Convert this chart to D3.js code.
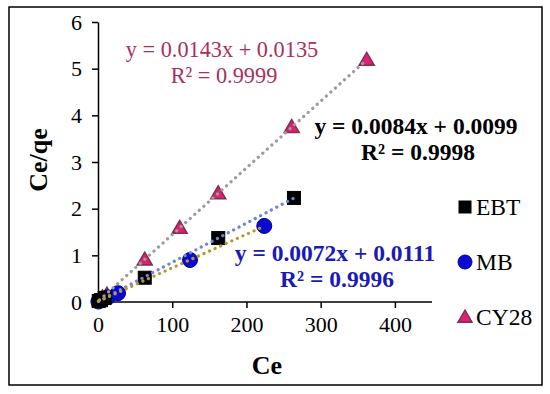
<!DOCTYPE html>
<html>
<head>
<meta charset="utf-8">
<script src="https://cdn.jsdelivr.net/npm/d3@7"></script>
<style>
  body { margin: 0; background: #fff; }
  text { font-family: "Liberation Serif", "Times New Roman", serif; }
</style>
</head>
<body>
<div id="chart"></div>
<script>
// data
var seriesNames = ["EBT", "MB", "CY28"];
var ebtCe = [1, 4, 9, 63, 162, 264];
var ebtY = [0.02, 0.04, 0.09, 0.52, 1.37, 2.23];
var mbCe = [0.5, 2, 5, 13, 27, 124, 224];
var mbY = [0.01, 0.03, 0.05, 0.1, 0.19, 0.9, 1.63];
var cyCe = [2, 6, 12, 63, 110, 162, 261, 362];
var cyY = [0.04, 0.1, 0.16, 0.91, 1.59, 2.33, 3.75, 5.19];
// trendline fits (slope, intercept, r2) as printed
var slopes = [0.0084, 0.0072, 0.0143];
var intercepts = [0.0099, 0.0111, 0.0135];
var r2s = ["0.9998", "0.9996", "0.9999"];
var xTicks = [0, 100, 200, 300, 400];
var yTicks = [0, 1, 2, 3, 4, 5, 6];

var W = 550, H = 394;
var margin = {top: 22, left: 98, right: 118, bottom: 92};

var svg = d3.select("#chart").append("svg")
  .attr("width", W).attr("height", H);

svg.append("rect")
  .attr("x", 9).attr("y", 7)
  .attr("width", 533).attr("height", 378)
  .attr("fill", "#fff").attr("stroke", "#000").attr("stroke-width", 1.5);

var x = d3.scaleLinear().domain([0, 450]).range([margin.left, W - margin.right]);
var y = d3.scaleLinear().domain([0, 6]).range([H - margin.bottom, margin.top]);

var series = [
  {name: "EBT", ce: ebtCe, v: ebtY, marker: "square", fill: "#000", stroke: "#000", line: "#6f86d6",
   eqColor: "#000", eqBold: true, eqX: 416, eqY: 134},
  {name: "MB", ce: mbCe, v: mbY, marker: "circle", fill: "#0a0ad0", stroke: "#0000a0", line: "#b59a2e",
   eqColor: "#1a1ab4", eqBold: true, eqX: 335, eqY: 261},
  {name: "CY28", ce: cyCe, v: cyY, marker: "triangle", fill: "#e0206e", stroke: "#7d2f55", line: "#9c9c9c",
   eqColor: "#a8305f", eqBold: false, eqX: 222, eqY: 57}
];
series.forEach(function(s, i) {
  s.slope = slopes[i]; s.b = intercepts[i]; s.r2 = r2s[i];
  s.points = s.ce.map(function(c, j) { return {ce: c, v: s.v[j]}; });
});

// axes
var xAxis = d3.axisBottom(x).tickValues(xTicks).tickFormat(d3.format("d"))
  .tickSize(6).tickPadding(8).tickSizeOuter(0);
var yAxis = d3.axisLeft(y).tickValues(yTicks).tickFormat(d3.format("d"))
  .tickSize(6).tickPadding(10).tickSizeOuter(0);

var gx = svg.append("g").attr("transform", "translate(0," + y(0) + ")").call(xAxis);
var gy = svg.append("g").attr("transform", "translate(" + x(0) + ",0)").call(yAxis);
[gx, gy].forEach(function(g) {
  g.select(".domain").attr("stroke", "#000").attr("stroke-width", 1.5);
  g.selectAll(".tick line").attr("stroke", "#000").attr("stroke-width", 1.5);
  g.selectAll(".tick text").attr("fill", "#000")
    .style("font-family", "Liberation Serif").style("font-size", "22px");
});
gx.select(".domain").attr("d", "M" + x(0) + ",0H" + x(450));

// axis titles
svg.append("text")
  .attr("x", 267).attr("y", 374)
  .attr("text-anchor", "middle")
  .style("font-size", "26px").style("font-weight", "bold")
  .text("Ce");
svg.append("text")
  .attr("transform", "translate(47,160) rotate(-90)")
  .attr("text-anchor", "middle")
  .style("font-size", "26px").style("font-weight", "bold")
  .text("Ce/qe");

function drawMarker(g, s, cx, cy, size) {
  if (s.marker === "square") {
    g.append("rect")
      .attr("x", cx - size / 2).attr("y", cy - size / 2)
      .attr("width", size).attr("height", size)
      .attr("fill", s.fill).attr("stroke", s.stroke);
  } else if (s.marker === "circle") {
    g.append("circle")
      .attr("cx", cx).attr("cy", cy).attr("r", size / 2 + 1)
      .attr("fill", s.fill).attr("stroke", s.stroke);
  } else {
    var h = size * 0.95;
    g.append("path")
      .attr("d", "M" + cx + "," + (cy - h * 0.6) +
        "L" + (cx + size / 2 + 1) + "," + (cy + h * 0.45) +
        "L" + (cx - size / 2 - 1) + "," + (cy + h * 0.45) + "Z")
      .attr("fill", s.fill).attr("stroke", s.stroke).attr("stroke-width", 1.5);
  }
}

// markers
var plot = svg.append("g");
series.slice().reverse().forEach(function(s) {
  s.points.forEach(function(p) {
    drawMarker(plot, s, x(p.ce), y(p.v), 13);
  });
});

// dotted trendlines on top
var line = d3.line()
  .x(function(d) { return x(d.ce); })
  .y(function(d) { return y(d.v); });

series.forEach(function(s) {
  var xs = d3.extent(s.ce);
  var ends = xs.map(function(c) { return {ce: c, v: s.slope * c + s.b}; });
  svg.append("path")
    .attr("d", line(ends))
    .attr("fill", "none")
    .attr("stroke", s.line)
    .attr("stroke-width", 3.2)
    .attr("stroke-linecap", "round")
    .attr("stroke-dasharray", "0.1,6");
});

// equation labels
series.forEach(function(s) {
  var t = svg.append("text")
    .attr("text-anchor", "middle")
    .attr("fill", s.eqColor)
    .style("font-size", s.eqBold ? "23.5px" : "22.3px")
    .style("font-weight", s.eqBold ? "bold" : "normal");
  t.append("tspan").attr("x", s.eqX).attr("y", s.eqY)
    .text("y = " + s.slope.toFixed(4) + "x + " + s.b.toFixed(4));
  t.append("tspan").attr("x", s.eqX + 2).attr("y", s.eqY + 26)
    .text("R² = " + s.r2);
});

// legend
var legend = svg.append("g");
series.forEach(function(s, i) {
  var ly = 207 + i * 55;
  drawMarker(legend, s, 465, ly, 12);
  legend.append("text")
    .attr("x", 476).attr("y", ly + 8)
    .style("font-size", "23.5px")
    .text(seriesNames[i]);
});
</script>
</body>
</html>
